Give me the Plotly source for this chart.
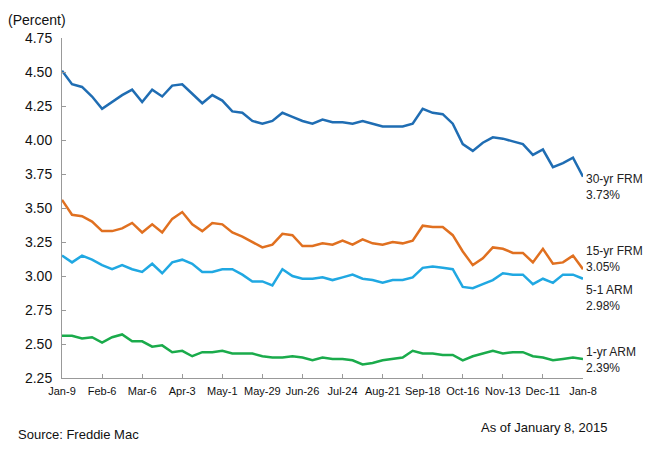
import plotly.graph_objects as go

weeks = ["Jan-9","Jan-16","Jan-23","Jan-30","Feb-6","Feb-13","Feb-20","Feb-27","Mar-6","Mar-13","Mar-20","Mar-27",
         "Apr-3","Apr-10","Apr-17","Apr-24","May-1","May-8","May-15","May-22","May-29","Jun-5","Jun-12","Jun-19",
         "Jun-26","Jul-3","Jul-10","Jul-17","Jul-24","Jul-31","Aug-7","Aug-14","Aug-21","Aug-28","Sep-4","Sep-11",
         "Sep-18","Sep-25","Oct-2","Oct-9","Oct-16","Oct-23","Oct-30","Nov-6","Nov-13","Nov-20","Nov-26","Dec-4",
         "Dec-11","Dec-18","Dec-24","Dec-31","Jan-8"]

frm30 = [4.51,4.41,4.39,4.32,4.23,4.28,4.33,4.37,4.28,4.37,4.32,4.40,
         4.41,4.34,4.27,4.33,4.29,4.21,4.20,4.14,4.12,4.14,4.20,4.17,
         4.14,4.12,4.15,4.13,4.13,4.12,4.14,4.12,4.10,4.10,4.10,4.12,
         4.23,4.20,4.19,4.12,3.97,3.92,3.98,4.02,4.01,3.99,3.97,3.89,
         3.93,3.80,3.83,3.87,3.73]
frm15 = [3.56,3.45,3.44,3.40,3.33,3.33,3.35,3.39,3.32,3.38,3.32,3.42,
         3.47,3.38,3.33,3.39,3.38,3.32,3.29,3.25,3.21,3.23,3.31,3.30,
         3.22,3.22,3.24,3.23,3.26,3.23,3.27,3.24,3.23,3.25,3.24,3.26,
         3.37,3.36,3.36,3.30,3.18,3.08,3.13,3.21,3.20,3.17,3.17,3.10,
         3.20,3.09,3.10,3.15,3.05]
arm51 = [3.15,3.10,3.15,3.12,3.08,3.05,3.08,3.05,3.03,3.09,3.02,3.10,
         3.12,3.09,3.03,3.03,3.05,3.05,3.01,2.96,2.96,2.93,3.05,3.00,
         2.98,2.98,2.99,2.97,2.99,3.01,2.98,2.97,2.95,2.97,2.97,2.99,
         3.06,3.07,3.06,3.05,2.92,2.91,2.94,2.97,3.02,3.01,3.01,2.94,
         2.98,2.95,3.01,3.01,2.98]
arm1 = [2.56,2.56,2.54,2.55,2.51,2.55,2.57,2.52,2.52,2.48,2.49,2.44,
        2.45,2.41,2.44,2.44,2.45,2.43,2.43,2.43,2.41,2.40,2.40,2.41,
        2.40,2.38,2.40,2.39,2.39,2.38,2.35,2.36,2.38,2.39,2.40,2.45,
        2.43,2.43,2.42,2.42,2.38,2.41,2.43,2.45,2.43,2.44,2.44,2.41,
        2.40,2.38,2.39,2.40,2.39]

series_names = ["30-yr FRM", "15-yr FRM", "5-1 ARM", "1-yr ARM"]
series_vals = [frm30, frm15, arm51, arm1]
colors = ["#1f6db3", "#e07020", "#20a8e2", "#1aab4b"]
label_yshift = [-10, 10, -19, -1]

y_ticks = [2.25, 2.50, 2.75, 3.00, 3.25, 3.50, 3.75, 4.00, 4.25, 4.50, 4.75]
x_idx = list(range(len(weeks)))
tick_idx = x_idx[::4]

fig = go.Figure()
for name, vals, c in zip(series_names, series_vals, colors):
    fig.add_trace(go.Scatter(x=x_idx, y=vals, mode="lines", name=name,
                             line=dict(color=c, width=2.5), showlegend=False))

font = "Liberation Sans, Arial, sans-serif"
for name, vals, ys in zip(series_names, series_vals, label_yshift):
    fig.add_annotation(x=x_idx[-1], y=vals[-1], xref="x", yref="y",
                       text=f"{name}<br>{vals[-1]:.2f}%", showarrow=False,
                       xanchor="left", yanchor="middle", xshift=1, yshift=ys, align="left",
                       font=dict(family=font, size=12, color="#222"))

fig.add_annotation(x=0, y=1, xref="paper", yref="paper", xanchor="left", yanchor="bottom",
                   text="(Percent)", showarrow=False, xshift=-56, yshift=8,
                   font=dict(family=font, size=14, color="#111"))
fig.add_annotation(x=0, y=0, xref="paper", yref="paper", xanchor="left", yanchor="top",
                   text="Source: Freddie Mac", showarrow=False, xshift=-46, yshift=-47,
                   font=dict(family=font, size=13, color="#111"))
fig.add_annotation(x=1, y=0, xref="paper", yref="paper", xanchor="right", yanchor="top",
                   text="As of January 8, 2015", showarrow=False, xshift=26, yshift=-40,
                   font=dict(family=font, size=13, color="#111"))

# page has an 8px body margin; size the figure so it fits the 655x450 window
fig.update_layout(
    width=647, height=442,
    margin=dict(l=54, r=72, t=30, b=72, autoexpand=False),
    paper_bgcolor="white", plot_bgcolor="white",
    xaxis=dict(range=[0, len(weeks)-1], tickvals=tick_idx, ticktext=[weeks[i] for i in tick_idx],
               showgrid=False, zeroline=False, showline=True, linecolor="#999", linewidth=1,
               ticks="inside", ticklen=4, tickcolor="#999", automargin=False, ticklabelstandoff=3,
               tickfont=dict(family=font, size=11, color="#111")),
    yaxis=dict(range=[2.25, 4.75], tickvals=y_ticks, ticktext=[f"{v:.2f}" for v in y_ticks],
               showgrid=False, zeroline=False, showline=True, linecolor="#999", linewidth=1,
               ticks="inside", ticklen=4, tickcolor="#999", automargin=False, ticklabelstandoff=6,
               tickfont=dict(family=font, size=14, color="#111")),
)

fig.write_html("out.html")
